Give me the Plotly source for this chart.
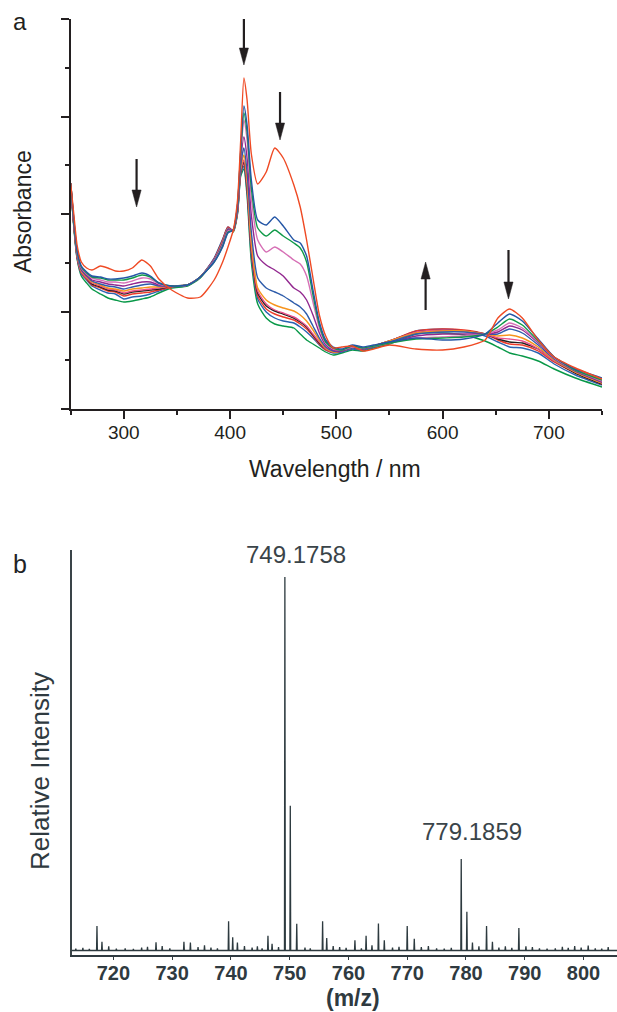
import plotly.graph_objects as go

# ---------------- Panel a: UV-vis titration spectra ----------------
wavelength = [250, 253, 256, 260, 265, 270, 278, 285, 292, 300, 308, 317, 325, 333, 345, 360, 372, 385, 393,
              398, 403, 407, 410, 413, 416, 420, 426, 434, 442, 450, 460, 466, 472, 478, 484, 490, 497, 505,
              515, 525, 535, 550, 575, 600, 620, 640, 652, 663, 675, 690, 705, 725, 750]

abs_s0 = [2.26, 1.94, 1.64, 1.47, 1.41, 1.39, 1.43, 1.41, 1.38, 1.38, 1.41, 1.49, 1.43, 1.30, 1.19, 1.11, 1.12, 1.29, 1.47,
          1.62, 1.79, 2.09, 2.69, 3.31, 3.09, 2.55, 2.25, 2.37, 2.61, 2.51, 2.24, 2.02, 1.69, 1.31, 0.94, 0.73, 0.61, 0.62,
          0.63, 0.58, 0.60, 0.64, 0.60, 0.59, 0.62, 0.69, 0.91, 1.00, 0.91, 0.69, 0.52, 0.41, 0.30]
abs_s1 = [2.26, 1.89, 1.59, 1.43, 1.37, 1.33, 1.32, 1.30, 1.30, 1.31, 1.33, 1.36, 1.33, 1.26, 1.23, 1.24, 1.32, 1.47, 1.62,
          1.76, 1.79, 2.04, 2.59, 3.03, 2.84, 2.29, 1.89, 1.84, 1.92, 1.83, 1.69, 1.66, 1.53, 1.19, 0.87, 0.69, 0.62, 0.60,
          0.64, 0.62, 0.64, 0.67, 0.71, 0.69, 0.70, 0.75, 0.86, 0.95, 0.88, 0.70, 0.52, 0.40, 0.31]
abs_s2 = [2.26, 1.88, 1.58, 1.42, 1.36, 1.32, 1.31, 1.29, 1.29, 1.29, 1.31, 1.34, 1.32, 1.26, 1.23, 1.24, 1.32, 1.47, 1.63,
          1.77, 1.79, 2.04, 2.57, 2.96, 2.77, 2.21, 1.81, 1.73, 1.79, 1.73, 1.66, 1.61, 1.47, 1.14, 0.84, 0.67, 0.61, 0.59,
          0.63, 0.61, 0.63, 0.66, 0.70, 0.71, 0.72, 0.75, 0.82, 0.90, 0.84, 0.68, 0.52, 0.39, 0.29]
abs_s3 = [2.26, 1.87, 1.57, 1.41, 1.35, 1.31, 1.29, 1.27, 1.27, 1.26, 1.28, 1.31, 1.30, 1.25, 1.23, 1.24, 1.32, 1.48, 1.64,
          1.78, 1.79, 2.03, 2.54, 2.89, 2.69, 2.11, 1.69, 1.57, 1.62, 1.57, 1.49, 1.45, 1.33, 1.07, 0.81, 0.66, 0.60, 0.59,
          0.62, 0.61, 0.63, 0.66, 0.71, 0.72, 0.73, 0.75, 0.79, 0.86, 0.81, 0.67, 0.51, 0.39, 0.28]
abs_s4 = [2.26, 1.86, 1.56, 1.40, 1.34, 1.29, 1.27, 1.25, 1.24, 1.23, 1.25, 1.27, 1.27, 1.24, 1.23, 1.24, 1.32, 1.48, 1.65,
          1.79, 1.79, 2.01, 2.49, 2.72, 2.51, 1.94, 1.53, 1.44, 1.39, 1.33, 1.21, 1.17, 1.09, 0.94, 0.76, 0.64, 0.59, 0.58,
          0.62, 0.60, 0.63, 0.66, 0.73, 0.75, 0.75, 0.75, 0.77, 0.83, 0.79, 0.66, 0.51, 0.38, 0.27]
abs_s5 = [2.25, 1.85, 1.55, 1.39, 1.33, 1.28, 1.25, 1.23, 1.22, 1.20, 1.22, 1.24, 1.25, 1.23, 1.23, 1.24, 1.32, 1.49, 1.66,
          1.80, 1.79, 2.00, 2.44, 2.61, 2.37, 1.77, 1.31, 1.21, 1.17, 1.13, 1.06, 1.02, 0.95, 0.83, 0.71, 0.62, 0.58, 0.58,
          0.61, 0.60, 0.63, 0.67, 0.75, 0.77, 0.77, 0.75, 0.75, 0.80, 0.76, 0.64, 0.50, 0.38, 0.27]
abs_s6 = [2.25, 1.84, 1.54, 1.38, 1.32, 1.27, 1.24, 1.21, 1.20, 1.18, 1.20, 1.21, 1.22, 1.22, 1.23, 1.24, 1.32, 1.49, 1.67,
          1.80, 1.78, 1.99, 2.41, 2.54, 2.29, 1.67, 1.21, 1.09, 1.04, 1.01, 0.98, 0.94, 0.88, 0.79, 0.69, 0.61, 0.57, 0.58,
          0.61, 0.60, 0.63, 0.68, 0.76, 0.78, 0.78, 0.75, 0.73, 0.74, 0.71, 0.62, 0.49, 0.37, 0.26]
abs_s7 = [2.25, 1.84, 1.53, 1.37, 1.31, 1.26, 1.23, 1.20, 1.19, 1.16, 1.18, 1.19, 1.20, 1.21, 1.23, 1.24, 1.32, 1.50, 1.68,
          1.81, 1.78, 1.98, 2.39, 2.49, 2.24, 1.62, 1.18, 1.05, 0.99, 0.96, 0.92, 0.88, 0.83, 0.75, 0.67, 0.60, 0.57, 0.58,
          0.61, 0.60, 0.63, 0.68, 0.77, 0.79, 0.78, 0.75, 0.71, 0.70, 0.68, 0.60, 0.48, 0.37, 0.26]
abs_s8 = [2.25, 1.83, 1.53, 1.37, 1.31, 1.25, 1.22, 1.19, 1.18, 1.15, 1.17, 1.18, 1.19, 1.20, 1.23, 1.24, 1.32, 1.50, 1.68,
          1.81, 1.78, 1.98, 2.38, 2.47, 2.22, 1.60, 1.16, 1.03, 0.98, 0.95, 0.91, 0.87, 0.82, 0.74, 0.66, 0.60, 0.57, 0.58,
          0.61, 0.60, 0.63, 0.68, 0.77, 0.79, 0.78, 0.75, 0.70, 0.67, 0.66, 0.60, 0.48, 0.36, 0.25]
abs_s9 = [2.24, 1.83, 1.52, 1.36, 1.30, 1.24, 1.21, 1.18, 1.17, 1.13, 1.15, 1.16, 1.17, 1.19, 1.22, 1.24, 1.32, 1.50, 1.69,
          1.82, 1.78, 1.97, 2.37, 2.46, 2.20, 1.57, 1.13, 1.00, 0.95, 0.92, 0.89, 0.85, 0.80, 0.73, 0.65, 0.59, 0.57, 0.58,
          0.61, 0.60, 0.63, 0.68, 0.78, 0.80, 0.79, 0.75, 0.69, 0.65, 0.64, 0.58, 0.47, 0.36, 0.25]
abs_s10 = [2.24, 1.82, 1.51, 1.35, 1.29, 1.23, 1.19, 1.16, 1.15, 1.10, 1.12, 1.13, 1.15, 1.18, 1.22, 1.24, 1.32, 1.51, 1.70,
           1.82, 1.78, 1.96, 2.35, 2.43, 2.17, 1.53, 1.10, 0.97, 0.91, 0.88, 0.86, 0.82, 0.77, 0.71, 0.64, 0.59, 0.56, 0.57,
           0.60, 0.59, 0.62, 0.67, 0.78, 0.80, 0.78, 0.73, 0.67, 0.62, 0.61, 0.56, 0.45, 0.34, 0.24]
abs_s11 = [2.24, 1.81, 1.50, 1.33, 1.26, 1.20, 1.15, 1.11, 1.09, 1.07, 1.08, 1.10, 1.12, 1.16, 1.21, 1.23, 1.31, 1.50, 1.69,
           1.81, 1.77, 1.95, 2.33, 2.40, 2.13, 1.47, 1.05, 0.91, 0.85, 0.83, 0.81, 0.75, 0.69, 0.65, 0.61, 0.57, 0.54, 0.56,
           0.59, 0.58, 0.61, 0.65, 0.75, 0.76, 0.74, 0.68, 0.62, 0.56, 0.53, 0.48, 0.40, 0.31, 0.22]

series_abs = [abs_s0, abs_s1, abs_s2, abs_s3, abs_s4, abs_s5, abs_s6, abs_s7, abs_s8, abs_s9, abs_s10, abs_s11]
series_colors = ["#ef4a24", "#2456a6", "#0f9a48", "#d66fb5", "#92278f", "#2e5caa",
                 "#f7941d", "#e9508a", "#231f20", "#ee3b2a", "#2a63b1", "#089848"]

# arrows (wavelength, tail absorbance, head absorbance)
arrow_wl = [312, 413, 447, 584, 662]
arrow_from = [2.50, 3.90, 3.17, 0.99, 1.59]
arrow_to = [2.02, 3.44, 2.69, 1.47, 1.10]

# ---------------- Panel b: mass spectrum ----------------
peak_mz = [717.2, 718.05, 727.25, 732.0, 733.1, 739.6, 740.3, 741.1, 745.3, 746.3, 747.0, 749.18, 750.1, 751.2,
           755.6, 756.3, 761.1, 763.0, 765.1, 766.1, 770.0, 771.2, 779.19, 780.15, 781.1, 782.2, 783.5, 784.5,
           789.0, 790.2, 795.2, 798.5]
peak_int = [6.9, 2.7, 2.6, 2.7, 2.5, 8.2, 3.9, 2.5, 1.0, 4.3, 2.2, 100, 39, 7.5,
            8.2, 3.7, 3.1, 4.3, 7.6, 3.1, 6.9, 3.5, 24.8, 10.7, 2.5, 1.5, 6.9, 2.7,
            6.4, 1.5, 1.0, 1.6]
noise_mz = [713.6, 714.8, 715.9, 719.2, 720.5, 722.0, 723.4, 724.8, 725.8, 728.3, 729.6, 734.4, 735.5, 736.6,
            737.7, 742.3, 743.6, 744.5, 748.1, 752.6, 753.5, 757.4, 758.5, 759.6, 762.2, 764.0, 767.5, 768.6,
            772.4, 773.6, 775.0, 776.3, 777.5, 785.6, 786.7, 787.8, 791.3, 792.5, 793.8, 796.4, 797.4, 799.6,
            800.8, 802.0, 803.1, 804.2]
noise_int = [0.9, 1.1, 0.8, 1.5, 0.9, 1.0, 0.8, 1.2, 1.4, 1.6, 1.0, 1.3, 1.8, 1.2,
             1.0, 1.6, 1.2, 1.5, 1.3, 1.2, 1.0, 1.6, 1.3, 1.1, 1.0, 1.8, 1.2, 1.4,
             1.3, 1.6, 1.0, 0.9, 1.1, 1.2, 1.5, 1.1, 1.3, 1.0, 0.9, 1.4, 1.1, 1.2,
             1.7, 1.0, 0.9, 1.3]
baseline_level = 0.4
mz_range = [712.9, 805.7]
peak_labels = ["749.1758", "779.1859"]

W, H = 617, 1012
def px(x):
    return x / W
def py(y):
    return 1 - y / H

fig = go.Figure()

# panel a traces (draw last series first so the initial red is on top)
for vals, col in reversed(list(zip(series_abs, series_colors))):
    fig.add_trace(go.Scatter(x=wavelength, y=vals, mode="lines",
                             line=dict(color=col, width=1.4, shape="spline", smoothing=0.6),
                             xaxis="x", yaxis="y", showlegend=False, hoverinfo="skip"))

# arrows: shaft + elongated triangular head
head_len = 0.17
head_half = 4.3
for xw, a0, a1 in zip(arrow_wl, arrow_from, arrow_to):
    sgn = 1 if a1 > a0 else -1
    base = a1 - sgn * head_len
    fig.add_trace(go.Scatter(x=[xw, xw], y=[a0, base], mode="lines",
                             line=dict(color="#231f20", width=2.2),
                             xaxis="x", yaxis="y", showlegend=False, hoverinfo="skip"))
    fig.add_trace(go.Scatter(x=[xw - head_half, xw + head_half, xw, xw - head_half],
                             y=[base, base, a1, base], mode="lines", fill="toself",
                             fillcolor="#231f20", line=dict(color="#231f20", width=0.5),
                             xaxis="x", yaxis="y", showlegend=False, hoverinfo="skip"))

# panel b: stick spectrum
sticks = sorted(list(zip(peak_mz, peak_int)) + list(zip(noise_mz, noise_int)))
hw = 0.07
ms_x = [mz_range[0]]
ms_y = [baseline_level]
for m, h in sticks:
    ms_x += [m - hw, m, m + hw]
    ms_y += [baseline_level, h, baseline_level]
ms_x.append(mz_range[1])
ms_y.append(baseline_level)
fig.add_trace(go.Scatter(x=ms_x, y=ms_y, mode="lines",
                         line=dict(color="#2d3a3f", width=1.3),
                         xaxis="x2", yaxis="y2", showlegend=False, hoverinfo="skip"))

black = "#231f20"
slate = "#2f3a40"

fig.update_layout(
    width=W, height=H,
    margin=dict(l=0, r=0, t=0, b=0),
    paper_bgcolor="white", plot_bgcolor="white",
    font=dict(family="Liberation Sans, Arial, sans-serif", color=black),
    xaxis=dict(domain=[px(70.7), px(602)], range=[250, 750], anchor="y",
               showline=True, linecolor=black, linewidth=1.5, showgrid=False, zeroline=False,
               ticks="outside", ticklen=8, tickwidth=1.5, tickcolor=black,
               tickmode="linear", tick0=300, dtick=100, ticklabelstandoff=-3,
               minor=dict(ticks="outside", ticklen=4, tickwidth=1.5, tickcolor=black, dtick=50, tick0=250),
               tickfont=dict(size=19, color=black)),
    yaxis=dict(domain=[py(409), py(19)], range=[0, 3.9], anchor="x",
               showline=True, linecolor=black, linewidth=1.5, showgrid=False, zeroline=False,
               ticks="outside", ticklen=8, tickwidth=1.5, tickcolor=black,
               tickmode="linear", tick0=0, dtick=0.975, showticklabels=False,
               minor=dict(ticks="outside", ticklen=4, tickwidth=1.5, tickcolor=black, dtick=0.4875, tick0=0)),
    xaxis2=dict(domain=[px(71.7), 1.0], range=mz_range, anchor="y2",
                showline=True, linecolor=slate, linewidth=1.5, showgrid=False, zeroline=False,
                ticks="outside", ticklen=3, tickwidth=1.2, tickcolor=slate,
                tickmode="linear", tick0=720, dtick=10, ticklabelstandoff=-4,
                tickfont=dict(size=20, color=slate, weight="bold")),
    yaxis2=dict(domain=[py(955), py(550)], range=[-0.8, 107.2], anchor="x2",
                showline=True, linecolor="#3a4448", linewidth=2, showgrid=False, zeroline=False,
                ticks="", showticklabels=False),
)

ann = []
def text(x, y, s, size, color=black, angle=0, bold=False):
    ann.append(dict(x=px(x), y=py(y), xref="paper", yref="paper", text=s, showarrow=False,
                    xanchor="center", yanchor="middle", textangle=angle,
                    font=dict(size=size, color=color, family="Liberation Sans, Arial, sans-serif",
                              weight="bold" if bold else "normal")))

text(20, 22, "a", 24)
text(23, 212, "Absorbance", 23, angle=-90)
text(335, 469, "Wavelength / nm", 23)
text(20, 564, "b", 25, color="#1f2326")
text(40, 771, "Relative Intensity", 26, color=slate, angle=-90)
text(296, 554, peak_labels[0], 24, color="#3a4449")
text(472, 831, peak_labels[1], 24, color="#3a4449")
text(353, 998, "(m/z)", 23, color=slate, bold=True)
fig.update_layout(annotations=ann)

fig.write_html("out.html", config={"displayModeBar": False},
               post_script="document.body.style.margin='0';document.body.style.overflow='hidden';")
